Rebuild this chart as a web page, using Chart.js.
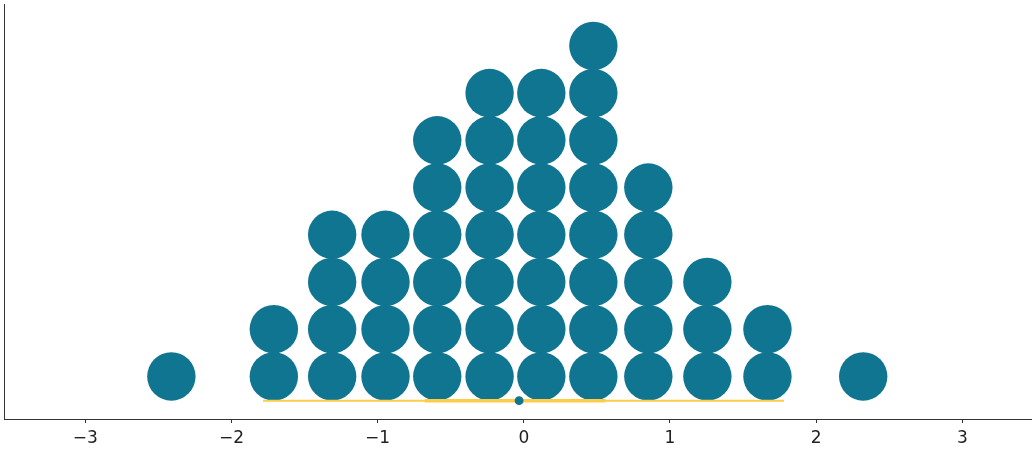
<!DOCTYPE html>
<html>
<head>
<meta charset="utf-8">
<script src="https://cdn.jsdelivr.net/npm/chart.js@4/dist/chart.umd.min.js"></script>
<style>
  html, body { margin: 0; padding: 0; background: #fff; }
  #chart { display: block; }
</style>
</head>
<body>
<canvas id="chart" width="1035" height="450"></canvas>
<script>
// dot columns (x position of each stack) and how many dots sit in it
const dotX = [-2.411, -1.71, -1.311, -0.946, -0.592, -0.234, 0.12, 0.476, 0.852, 1.256, 1.667, 2.322];
const dotCounts = [1, 2, 4, 4, 6, 7, 7, 8, 5, 3, 2, 1];

// hdi bars and point estimate under the dots
const hdiOuter = [-1.784, 1.78];
const hdiInner = [-0.678, 0.559];
const medianX = -0.032;
const hdiLevel = 0.486;

const tickValues = [-3, -2, -1, 0, 1, 2, 3];
const tickLabels = ["\u22123", "\u22122", "\u22121", "0", "1", "2", "3"];

const teal = "#107591";
const gold = "#fdcd49";
const axisColor = "#333333";

const dots = [];
dotX.forEach((x, i) => {
  for (let k = 1; k <= dotCounts[i]; k++) dots.push({ x: x, y: k });
});

const ctx = document.getElementById("chart").getContext("2d");
new Chart(ctx, {
  type: "scatter",
  data: {
    datasets: [
      {
        data: [{ x: medianX, y: hdiLevel }],
        pointRadius: 4.4,
        pointBackgroundColor: teal,
        pointBorderWidth: 0,
      },
      {
        data: hdiInner.map((x) => ({ x: x, y: hdiLevel })),
        showLine: true,
        borderColor: gold,
        borderWidth: 3.6,
        borderCapStyle: "butt",
        pointRadius: 0,
      },
      {
        data: hdiOuter.map((x) => ({ x: x, y: hdiLevel })),
        showLine: true,
        borderColor: gold,
        borderWidth: 2,
        borderCapStyle: "butt",
        pointRadius: 0,
      },
      {
        data: dots,
        pointRadius: 24.2,
        pointBackgroundColor: teal,
        pointBorderWidth: 0,
      },
    ],
  },
  options: {
    responsive: false,
    animation: false,
    devicePixelRatio: 1,
    layout: { autoPadding: false, padding: { left: 4, top: 4, right: 4, bottom: 0 } },
    plugins: { legend: { display: false }, tooltip: { enabled: false } },
    scales: {
      x: {
        type: "linear",
        min: -3.556,
        max: 3.47,
        afterFit: (scale) => { scale.height = 31; },
        afterBuildTicks: (scale) => {
          scale.ticks = tickValues.map((v) => ({ value: v }));
        },
        grid: {
          display: true,
          drawOnChartArea: false,
          drawTicks: true,
          tickLength: 4,
          color: axisColor,
        },
        border: { display: true, color: axisColor, width: 1 },
        ticks: {
          padding: 5,
          maxRotation: 0,
          color: "#222222",
          font: { family: "DejaVu Sans", size: 17 },
          callback: (value) => tickLabels[tickValues.indexOf(value)] ?? "",
        },
      },
      y: {
        type: "linear",
        min: 0.0986,
        max: 8.886,
        afterFit: (scale) => { scale.width = 0; },
        grid: { display: true, drawOnChartArea: false, drawTicks: false },
        border: { display: true, color: axisColor, width: 1 },
        ticks: { display: false },
      },
    },
  },
});
</script>
</body>
</html>
